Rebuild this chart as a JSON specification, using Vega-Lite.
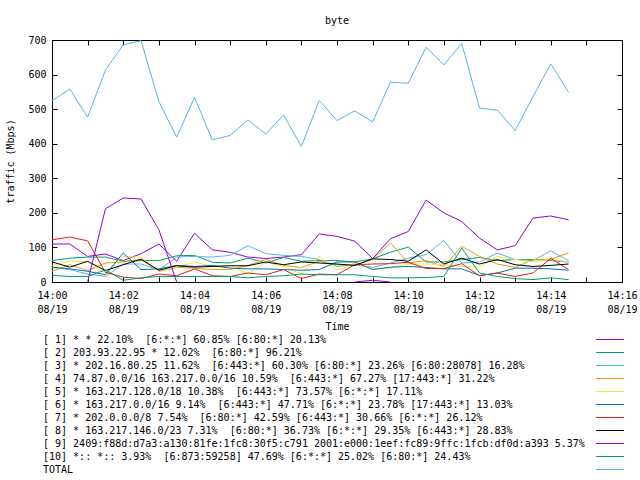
{
  "$schema": "https://vega.github.io/schema/vega-lite/v6.json",
  "padding": {"left": 5, "top": 15, "right": 5, "bottom": 0},
  "spacing": 1,
  "datasets": {
    "legend": [
      {"s": 1, "label": "[ 1] * * 22.10%\u00a0 [6:*:*] 60.85% [6:80:*] 20.13%"},
      {"s": 2, "label": "[ 2] 203.93.22.95 * 12.02%\u00a0 [6:80:*] 96.21%"},
      {"s": 3, "label": "[ 3] * 202.16.80.25 11.62%\u00a0 [6:443:*] 60.30% [6:80:*] 23.26% [6:80:28078] 16.28%"},
      {"s": 4, "label": "[ 4] 74.87.0.0/16 163.217.0.0/16 10.59%\u00a0 [6:443:*] 67.27% [17:443:*] 31.22%"},
      {"s": 5, "label": "[ 5] * 163.217.128.0/18 10.38%\u00a0 [6:443:*] 73.57% [6:*:*] 17.11%"},
      {"s": 6, "label": "[ 6] * 163.217.0.0/16 9.14%\u00a0 [6:443:*] 47.71% [6:*:*] 23.78% [17:443:*] 13.03%"},
      {"s": 7, "label": "[ 7] * 202.0.0.0/8 7.54%\u00a0 [6:80:*] 42.59% [6:443:*] 30.66% [6:*:*] 26.12%"},
      {"s": 8, "label": "[ 8] * 163.217.146.0/23 7.31%\u00a0 [6:80:*] 36.73% [6:*:*] 29.35% [6:443:*] 28.83%"},
      {"s": 9, "label": "[ 9] 2409:f88d:d7a3:a130:81fe:1fc8:30f5:c791 2001:e000:1eef:fc89:9ffc:1fcb:df0d:a393 5.37%"},
      {"s": 10, "label": "[10] *:: *:: 3.93%\u00a0 [6:873:59258] 47.69% [6:*:*] 25.02% [6:80:*] 24.43%"},
      {"s": 11, "label": "TOTAL"}
    ],
    "traffic": [
      {"s":1,"t":"14:00:00","v":110},{"s":1,"t":"14:00:30","v":110},{"s":1,"t":"14:01:00","v":74},{"s":1,"t":"14:01:30","v":81},{"s":1,"t":"14:02:00","v":62},{"s":1,"t":"14:02:30","v":82},{"s":1,"t":"14:03:00","v":110},{"s":1,"t":"14:03:30","v":60},{"s":1,"t":"14:04:00","v":141},{"s":1,"t":"14:04:30","v":93},{"s":1,"t":"14:05:00","v":86},{"s":1,"t":"14:05:30","v":72},{"s":1,"t":"14:06:00","v":68},{"s":1,"t":"14:06:30","v":72},{"s":1,"t":"14:07:00","v":79},{"s":1,"t":"14:07:30","v":139},{"s":1,"t":"14:08:00","v":132},{"s":1,"t":"14:08:30","v":118},{"s":1,"t":"14:09:00","v":68},{"s":1,"t":"14:09:30","v":125},{"s":1,"t":"14:10:00","v":146},{"s":1,"t":"14:10:30","v":237},{"s":1,"t":"14:11:00","v":200},{"s":1,"t":"14:11:30","v":175},{"s":1,"t":"14:12:00","v":127},{"s":1,"t":"14:12:30","v":93},{"s":1,"t":"14:13:00","v":105},{"s":1,"t":"14:13:30","v":185},{"s":1,"t":"14:14:00","v":191},{"s":1,"t":"14:14:30","v":180},
      {"s":2,"t":"14:00:00","v":62},{"s":2,"t":"14:00:30","v":69},{"s":2,"t":"14:01:00","v":72},{"s":2,"t":"14:01:30","v":72},{"s":2,"t":"14:02:00","v":60},{"s":2,"t":"14:02:30","v":62},{"s":2,"t":"14:03:00","v":62},{"s":2,"t":"14:03:30","v":76},{"s":2,"t":"14:04:00","v":77},{"s":2,"t":"14:04:30","v":57},{"s":2,"t":"14:05:00","v":55},{"s":2,"t":"14:05:30","v":69},{"s":2,"t":"14:06:00","v":55},{"s":2,"t":"14:06:30","v":71},{"s":2,"t":"14:07:00","v":60},{"s":2,"t":"14:07:30","v":62},{"s":2,"t":"14:08:00","v":62},{"s":2,"t":"14:08:30","v":58},{"s":2,"t":"14:09:00","v":67},{"s":2,"t":"14:09:30","v":86},{"s":2,"t":"14:10:00","v":101},{"s":2,"t":"14:10:30","v":58},{"s":2,"t":"14:11:00","v":58},{"s":2,"t":"14:11:30","v":65},{"s":2,"t":"14:12:00","v":71},{"s":2,"t":"14:12:30","v":62},{"s":2,"t":"14:13:00","v":65},{"s":2,"t":"14:13:30","v":65},{"s":2,"t":"14:14:00","v":62},{"s":2,"t":"14:14:30","v":58},
      {"s":3,"t":"14:00:00","v":42},{"s":3,"t":"14:00:30","v":36},{"s":3,"t":"14:01:00","v":23},{"s":3,"t":"14:01:30","v":16},{"s":3,"t":"14:02:00","v":52},{"s":3,"t":"14:02:30","v":52},{"s":3,"t":"14:03:00","v":35},{"s":3,"t":"14:03:30","v":72},{"s":3,"t":"14:04:00","v":74},{"s":3,"t":"14:04:30","v":72},{"s":3,"t":"14:05:00","v":77},{"s":3,"t":"14:05:30","v":105},{"s":3,"t":"14:06:00","v":82},{"s":3,"t":"14:06:30","v":77},{"s":3,"t":"14:07:00","v":74},{"s":3,"t":"14:07:30","v":65},{"s":3,"t":"14:08:00","v":45},{"s":3,"t":"14:08:30","v":50},{"s":3,"t":"14:09:00","v":42},{"s":3,"t":"14:09:30","v":55},{"s":3,"t":"14:10:00","v":69},{"s":3,"t":"14:10:30","v":79},{"s":3,"t":"14:11:00","v":120},{"s":3,"t":"14:11:30","v":55},{"s":3,"t":"14:12:00","v":58},{"s":3,"t":"14:12:30","v":84},{"s":3,"t":"14:13:00","v":65},{"s":3,"t":"14:13:30","v":62},{"s":3,"t":"14:14:00","v":90},{"s":3,"t":"14:14:30","v":62},
      {"s":4,"t":"14:00:00","v":31},{"s":4,"t":"14:00:30","v":50},{"s":4,"t":"14:01:00","v":33},{"s":4,"t":"14:01:30","v":55},{"s":4,"t":"14:02:00","v":58},{"s":4,"t":"14:02:30","v":65},{"s":4,"t":"14:03:00","v":31},{"s":4,"t":"14:03:30","v":42},{"s":4,"t":"14:04:00","v":40},{"s":4,"t":"14:04:30","v":36},{"s":4,"t":"14:05:00","v":36},{"s":4,"t":"14:05:30","v":48},{"s":4,"t":"14:06:00","v":65},{"s":4,"t":"14:06:30","v":48},{"s":4,"t":"14:07:00","v":42},{"s":4,"t":"14:07:30","v":60},{"s":4,"t":"14:08:00","v":50},{"s":4,"t":"14:08:30","v":48},{"s":4,"t":"14:09:00","v":65},{"s":4,"t":"14:09:30","v":113},{"s":4,"t":"14:10:00","v":55},{"s":4,"t":"14:10:30","v":62},{"s":4,"t":"14:11:00","v":45},{"s":4,"t":"14:11:30","v":103},{"s":4,"t":"14:12:00","v":74},{"s":4,"t":"14:12:30","v":52},{"s":4,"t":"14:13:00","v":42},{"s":4,"t":"14:13:30","v":65},{"s":4,"t":"14:14:00","v":66},{"s":4,"t":"14:14:30","v":84},
      {"s":5,"t":"14:00:00","v":48},{"s":5,"t":"14:00:30","v":60},{"s":5,"t":"14:01:00","v":58},{"s":5,"t":"14:01:30","v":26},{"s":5,"t":"14:02:00","v":74},{"s":5,"t":"14:02:30","v":71},{"s":5,"t":"14:03:00","v":31},{"s":5,"t":"14:03:30","v":43},{"s":5,"t":"14:04:00","v":58},{"s":5,"t":"14:04:30","v":45},{"s":5,"t":"14:05:00","v":48},{"s":5,"t":"14:05:30","v":23},{"s":5,"t":"14:06:00","v":58},{"s":5,"t":"14:06:30","v":45},{"s":5,"t":"14:07:00","v":23},{"s":5,"t":"14:07:30","v":74},{"s":5,"t":"14:08:00","v":34},{"s":5,"t":"14:08:30","v":55},{"s":5,"t":"14:09:00","v":38},{"s":5,"t":"14:09:30","v":40},{"s":5,"t":"14:10:00","v":52},{"s":5,"t":"14:10:30","v":52},{"s":5,"t":"14:11:00","v":50},{"s":5,"t":"14:11:30","v":45},{"s":5,"t":"14:12:00","v":43},{"s":5,"t":"14:12:30","v":74},{"s":5,"t":"14:13:00","v":65},{"s":5,"t":"14:13:30","v":58},{"s":5,"t":"14:14:00","v":65},{"s":5,"t":"14:14:30","v":58},
      {"s":6,"t":"14:00:00","v":43},{"s":6,"t":"14:00:30","v":38},{"s":6,"t":"14:01:00","v":31},{"s":6,"t":"14:01:30","v":21},{"s":6,"t":"14:02:00","v":84},{"s":6,"t":"14:02:30","v":36},{"s":6,"t":"14:03:00","v":38},{"s":6,"t":"14:03:30","v":48},{"s":6,"t":"14:04:00","v":45},{"s":6,"t":"14:04:30","v":48},{"s":6,"t":"14:05:00","v":40},{"s":6,"t":"14:05:30","v":38},{"s":6,"t":"14:06:00","v":38},{"s":6,"t":"14:06:30","v":36},{"s":6,"t":"14:07:00","v":34},{"s":6,"t":"14:07:30","v":36},{"s":6,"t":"14:08:00","v":58},{"s":6,"t":"14:08:30","v":58},{"s":6,"t":"14:09:00","v":36},{"s":6,"t":"14:09:30","v":43},{"s":6,"t":"14:10:00","v":45},{"s":6,"t":"14:10:30","v":42},{"s":6,"t":"14:11:00","v":38},{"s":6,"t":"14:11:30","v":38},{"s":6,"t":"14:12:00","v":19},{"s":6,"t":"14:12:30","v":26},{"s":6,"t":"14:13:00","v":40},{"s":6,"t":"14:13:30","v":40},{"s":6,"t":"14:14:00","v":38},{"s":6,"t":"14:14:30","v":34},
      {"s":7,"t":"14:00:00","v":122},{"s":7,"t":"14:00:30","v":130},{"s":7,"t":"14:01:00","v":119},{"s":7,"t":"14:01:30","v":28},{"s":7,"t":"14:02:00","v":14},{"s":7,"t":"14:02:30","v":10},{"s":7,"t":"14:03:00","v":23},{"s":7,"t":"14:03:30","v":18},{"s":7,"t":"14:04:00","v":38},{"s":7,"t":"14:04:30","v":18},{"s":7,"t":"14:05:00","v":16},{"s":7,"t":"14:05:30","v":26},{"s":7,"t":"14:06:00","v":21},{"s":7,"t":"14:06:30","v":36},{"s":7,"t":"14:07:00","v":10},{"s":7,"t":"14:07:30","v":23},{"s":7,"t":"14:08:00","v":21},{"s":7,"t":"14:08:30","v":50},{"s":7,"t":"14:09:00","v":52},{"s":7,"t":"14:09:30","v":53},{"s":7,"t":"14:10:00","v":57},{"s":7,"t":"14:10:30","v":39},{"s":7,"t":"14:11:00","v":39},{"s":7,"t":"14:11:30","v":53},{"s":7,"t":"14:12:00","v":18},{"s":7,"t":"14:12:30","v":26},{"s":7,"t":"14:13:00","v":16},{"s":7,"t":"14:13:30","v":26},{"s":7,"t":"14:14:00","v":68},{"s":7,"t":"14:14:30","v":36},
      {"s":8,"t":"14:00:00","v":58},{"s":8,"t":"14:00:30","v":43},{"s":8,"t":"14:01:00","v":60},{"s":8,"t":"14:01:30","v":33},{"s":8,"t":"14:02:00","v":50},{"s":8,"t":"14:02:30","v":66},{"s":8,"t":"14:03:00","v":34},{"s":8,"t":"14:03:30","v":47},{"s":8,"t":"14:04:00","v":43},{"s":8,"t":"14:04:30","v":45},{"s":8,"t":"14:05:00","v":47},{"s":8,"t":"14:05:30","v":47},{"s":8,"t":"14:06:00","v":58},{"s":8,"t":"14:06:30","v":50},{"s":8,"t":"14:07:00","v":58},{"s":8,"t":"14:07:30","v":55},{"s":8,"t":"14:08:00","v":52},{"s":8,"t":"14:08:30","v":48},{"s":8,"t":"14:09:00","v":67},{"s":8,"t":"14:09:30","v":65},{"s":8,"t":"14:10:00","v":60},{"s":8,"t":"14:10:30","v":93},{"s":8,"t":"14:11:00","v":52},{"s":8,"t":"14:11:30","v":69},{"s":8,"t":"14:12:00","v":52},{"s":8,"t":"14:12:30","v":65},{"s":8,"t":"14:13:00","v":50},{"s":8,"t":"14:13:30","v":45},{"s":8,"t":"14:14:00","v":48},{"s":8,"t":"14:14:30","v":52},
      {"s":9,"t":"14:01:00","v":0},{"s":9,"t":"14:01:30","v":212},{"s":9,"t":"14:02:00","v":243},{"s":9,"t":"14:02:30","v":240},{"s":9,"t":"14:03:00","v":151},{"s":9,"t":"14:03:30","v":0},{"s":9,"t":"14:04:00","v":null},{"s":9,"t":"14:08:30","v":0},{"s":9,"t":"14:09:00","v":5},{"s":9,"t":"14:09:30","v":0},
      {"s":10,"t":"14:00:00","v":19},{"s":10,"t":"14:00:30","v":16},{"s":10,"t":"14:01:00","v":16},{"s":10,"t":"14:01:30","v":35},{"s":10,"t":"14:02:00","v":5},{"s":10,"t":"14:02:30","v":12},{"s":10,"t":"14:03:00","v":16},{"s":10,"t":"14:03:30","v":16},{"s":10,"t":"14:04:00","v":16},{"s":10,"t":"14:04:30","v":16},{"s":10,"t":"14:05:00","v":16},{"s":10,"t":"14:05:30","v":12},{"s":10,"t":"14:06:00","v":16},{"s":10,"t":"14:06:30","v":18},{"s":10,"t":"14:07:00","v":23},{"s":10,"t":"14:07:30","v":21},{"s":10,"t":"14:08:00","v":21},{"s":10,"t":"14:08:30","v":21},{"s":10,"t":"14:09:00","v":16},{"s":10,"t":"14:09:30","v":12},{"s":10,"t":"14:10:00","v":12},{"s":10,"t":"14:10:30","v":13},{"s":10,"t":"14:11:00","v":16},{"s":10,"t":"14:11:30","v":98},{"s":10,"t":"14:12:00","v":26},{"s":10,"t":"14:12:30","v":16},{"s":10,"t":"14:13:00","v":10},{"s":10,"t":"14:13:30","v":7},{"s":10,"t":"14:14:00","v":12},{"s":10,"t":"14:14:30","v":7},
      {"s":11,"t":"14:00:00","v":525},{"s":11,"t":"14:00:30","v":558},{"s":11,"t":"14:01:00","v":477},{"s":11,"t":"14:01:30","v":613},{"s":11,"t":"14:02:00","v":686},{"s":11,"t":"14:02:30","v":698},{"s":11,"t":"14:03:00","v":522},{"s":11,"t":"14:03:30","v":419},{"s":11,"t":"14:04:00","v":534},{"s":11,"t":"14:04:30","v":411},{"s":11,"t":"14:05:00","v":424},{"s":11,"t":"14:05:30","v":469},{"s":11,"t":"14:06:00","v":428},{"s":11,"t":"14:06:30","v":483},{"s":11,"t":"14:07:00","v":392},{"s":11,"t":"14:07:30","v":525},{"s":11,"t":"14:08:00","v":467},{"s":11,"t":"14:08:30","v":495},{"s":11,"t":"14:09:00","v":463},{"s":11,"t":"14:09:30","v":578},{"s":11,"t":"14:10:00","v":575},{"s":11,"t":"14:10:30","v":679},{"s":11,"t":"14:11:00","v":628},{"s":11,"t":"14:11:30","v":690},{"s":11,"t":"14:12:00","v":503},{"s":11,"t":"14:12:30","v":497},{"s":11,"t":"14:13:00","v":438},{"s":11,"t":"14:13:30","v":536},{"s":11,"t":"14:14:00","v":631},{"s":11,"t":"14:14:30","v":549}
    ]
  },
  "vconcat": [
    {
      "width": 570,
      "height": 242,
      "title": {"text": "byte", "offset": 9, "fontSize": 10, "fontWeight": "normal", "font": "DejaVu Sans Mono", "anchor": "middle"},
      "data": {"name": "traffic", "format": {"parse": {"t": "utc:'%H:%M:%S'"}}},
      "layer": [
        {
          "mark": {"type": "line", "strokeWidth": 1},
          "encoding": {
            "x": {
              "field": "t", "type": "temporal",
              "scale": {"type": "utc", "domain": [{"year": 1900, "month": 1, "date": 1, "hours": 14, "minutes": 0, "utc": true}, {"year": 1900, "month": 1, "date": 1, "hours": 14, "minutes": 16, "utc": true}]},
              "axis": {
                "orient": "bottom", "title": "Time", "tickCount": 16,
                "labelExpr": "utcminutes(datum.value) % 2 == 0 ? [utcFormat(datum.value, '%H:%M'), '08/19'] : ''",
                "labelOverlap": false, "labelFlush": false, "labelLineHeight": 14, "labelPadding": 13, "titlePadding": 7, "tickSize": -5
              }
            },
            "y": {
              "field": "v", "type": "quantitative",
              "scale": {"domain": [0, 700], "nice": false},
              "axis": {"orient": "left", "title": "traffic (Mbps)", "values": [0, 100, 200, 300, 400, 500, 600, 700], "format": "d", "labelPadding": 11, "titlePadding": 12, "tickSize": -5}
            },
            "color": {
              "field": "s", "type": "nominal",
              "scale": {"domain": [1, 2, 3, 4, 5, 6, 7, 8, 9, 10, 11], "range": ["#9400d3", "#009e73", "#56b4e9", "#e69f00", "#f0e442", "#0072b2", "#e51e10", "#000000", "#9400d3", "#009e73", "#56b4e9"]},
              "legend": null
            }
          }
        },
        {
          "mark": {"type": "line", "opacity": 0},
          "encoding": {
            "x": {"field": "t", "type": "temporal", "axis": {"orient": "top", "title": null, "labels": false, "tickCount": 16, "tickSize": -5}},
            "y": {"field": "v", "type": "quantitative", "axis": {"orient": "right", "title": null, "labels": false, "values": [0, 100, 200, 300, 400, 500, 600, 700], "tickSize": -5}}
          }
        }
      ],
      "resolve": {"axis": {"x": "independent", "y": "independent"}}
    },
    {
      "width": 570,
      "height": 143,
      "view": {"stroke": null},
      "data": {"name": "legend"},
      "layer": [
        {
          "mark": {"type": "text", "align": "left", "baseline": "middle", "fontSize": 10, "font": "DejaVu Sans Mono", "color": "black"},
          "encoding": {
            "x": {"datum": -9, "type": "quantitative", "scale": {"domain": [0, 570], "nice": false, "zero": false}, "axis": null},
            "y": {"field": "s", "type": "quantitative", "scale": {"domain": [0.5, 11.5], "reverse": true, "nice": false, "zero": false}, "axis": null},
            "text": {"field": "label"}
          }
        },
        {
          "mark": {"type": "rule", "strokeWidth": 1},
          "encoding": {
            "x": {"datum": 544, "type": "quantitative"},
            "x2": {"datum": 572},
            "y": {"field": "s", "type": "quantitative"},
            "color": {"field": "s", "type": "nominal", "legend": null}
          }
        }
      ]
    }
  ],
  "config": {
    "font": "DejaVu Sans Mono",
    "view": {"stroke": "black", "strokeWidth": 1},
    "axis": {
      "domain": false, "grid": false, "tickColor": "black", "tickWidth": 1,
      "labelFont": "DejaVu Sans Mono", "labelFontSize": 10, "labelColor": "black",
      "titleFont": "DejaVu Sans Mono", "titleFontSize": 10, "titleFontWeight": "normal", "titleColor": "black"
    }
  }
}
